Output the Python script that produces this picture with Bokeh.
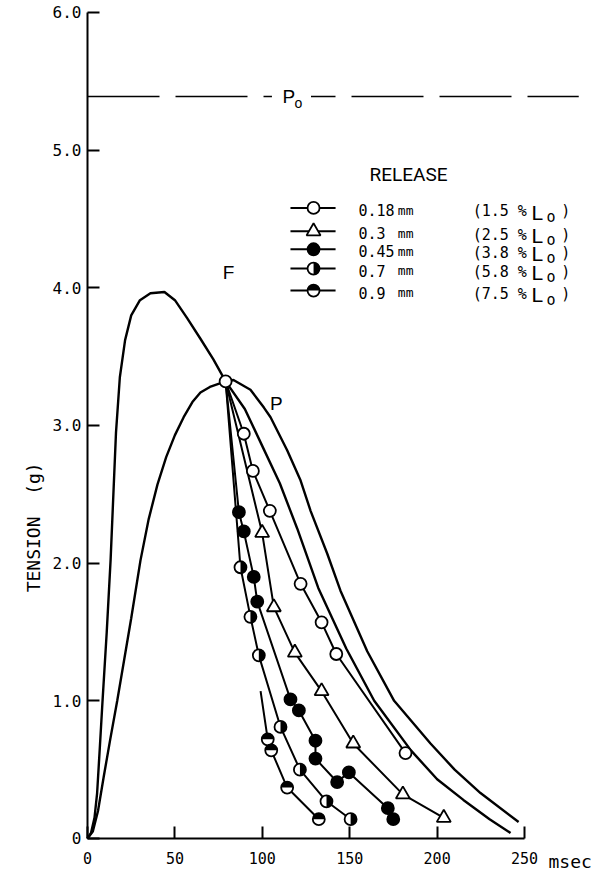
import math
from bokeh.plotting import figure
from bokeh.models import Label, Range1d, FixedTicker, LinearAxis
from bokeh.embed import file_html
from bokeh.resources import INLINE

# ---------------- data ----------------
P0 = 5.39

F_x = [0, 2, 4, 5.5, 7, 8.6, 11, 13.2, 14.8, 16.3, 18.5, 21.5, 25, 30, 36, 44, 50, 57, 64.6, 72, 79,
       90, 100, 110, 120, 132, 148, 164, 185, 200, 215, 230, 242]
F_y = [0, 0.04, 0.15, 0.33, 0.65, 1.0, 1.5, 2.02, 2.5, 2.95, 3.35, 3.62, 3.8, 3.91, 3.96, 3.97, 3.91, 3.78, 3.63, 3.48, 3.32,
       3.12, 2.85, 2.58, 2.25, 1.82, 1.38, 1.0, 0.64, 0.43, 0.28, 0.14, 0.04]

P_x = [0, 3, 6, 9.3, 13, 17, 21, 25, 30.3, 35, 40, 45, 50, 55, 60, 64.6, 70, 79, 83.5, 93.2,
       100.9, 104.7, 114.2, 121.9, 127.6, 137.1, 144.7, 160, 175.4, 196.2, 210, 224.8, 246.6]
P_y = [0, 0.05, 0.2, 0.45, 0.72, 1.0, 1.3, 1.6, 2.02, 2.32, 2.57, 2.77, 2.93, 3.06, 3.17, 3.24, 3.28, 3.32, 3.33, 3.26,
       3.13, 3.06, 2.82, 2.6, 2.38, 2.07, 1.8, 1.36, 1.0, 0.69, 0.5, 0.33, 0.12]

# release point (common start of the release curves)
REL_X = 79.0
REL_Y = 3.32

# 0.18 mm (open circles)
r018_x = [89.4, 94.6, 104.3, 121.9, 133.9, 142.3, 181.9]
r018_y = [2.94, 2.67, 2.38, 1.85, 1.57, 1.34, 0.62]
# 0.3 mm (triangles)
r03_x = [99.9, 106.6, 118.6, 133.9, 152.0, 180.4, 203.8]
r03_y = [2.22, 1.68, 1.35, 1.07, 0.69, 0.32, 0.15]
# 0.45 mm (filled circles)
r045_x = [86.6, 89.4, 95.1, 97.1, 116.1, 120.9, 130.4, 130.4, 142.8, 149.5, 171.8, 174.9]
r045_y = [2.37, 2.23, 1.90, 1.72, 1.01, 0.93, 0.71, 0.58, 0.41, 0.48, 0.22, 0.14]
# 0.7 mm (right-half filled)
r07_x = [87.5, 93.2, 98.0, 110.4, 121.5, 136.7, 150.5]
r07_y = [1.97, 1.61, 1.33, 0.81, 0.50, 0.27, 0.14]
# 0.9 mm (top-half filled); its line begins without a marker
r09_start_x = 99.0
r09_start_y = 1.07
r09_x = [103.1, 105.1, 114.2, 132.3]
r09_y = [0.72, 0.64, 0.37, 0.14]

legend_mm = ["0.18", "0.3", "0.45", "0.7", "0.9"]
legend_pct = ["(1.5 %", "(2.5 %", "(3.8 %", "(5.8 %", "(7.5 %"]
legend_kind = ["open", "tri", "filled", "half_right", "half_top"]

x_ticks = [0, 50, 100, 150, 200, 250]
y_ticks = [0, 1, 2, 3, 4, 5, 6]
y_tick_labels = ["0", "1.0", "2.0", "3.0", "4.0", "5.0", "6.0"]

# ---------------- figure ----------------
MONO = "DejaVu Sans Mono"
SANS = "Liberation Sans"

p = figure(width=598, height=875, x_range=Range1d(-49.77, 292.3), y_range=Range1d(-0.269, 6.087),
           output_backend="svg", toolbar_location=None,
           x_axis_location=None, y_axis_location=None, min_border=0)
p.outline_line_color = None
p.grid.visible = False
p.background_fill_color = "white"

xaxis = LinearAxis(fixed_location=0, bounds=(0, 250), ticker=FixedTicker(ticks=x_ticks))
yaxis = LinearAxis(fixed_location=0, bounds=(0, 6), ticker=FixedTicker(ticks=y_ticks))
yaxis.major_label_overrides = {t: s for t, s in zip(y_ticks, y_tick_labels)}
for ax in (xaxis, yaxis):
    ax.axis_line_width = 2
    ax.axis_line_color = "black"
    ax.major_tick_line_width = 2
    ax.major_tick_line_color = "black"
    ax.major_tick_in = 12
    ax.major_tick_out = 0
    ax.minor_tick_line_color = None
    ax.major_label_text_font = MONO
    ax.major_label_text_color = "black"
xaxis.major_label_text_font_size = "15px"
xaxis.major_label_standoff = 14
yaxis.major_label_text_font_size = "16px"
yaxis.major_label_standoff = 6
p.add_layout(xaxis, "below")
p.add_layout(yaxis, "left")


def label(**kw):
    kw.setdefault("text_color", "black")
    kw.setdefault("text_baseline", "middle")
    p.add_layout(Label(**kw))


# P0 dashed line with its label
p.line([0, 281], [P0, P0], line_color="black", line_width=1.6, line_dash="72 16")
label(x=105.5, y=P0, text="\u00a0\u00a0P\u00a0\u00a0\u00a0", text_font=SANS,
      text_font_size="19px", text_align="left", background_fill_color="white")
label(x=120.6, y=P0 - 0.05, text="o", text_font=SANS, text_font_size="14px", text_align="center")

# F and P curves
p.line(F_x, F_y, line_color="black", line_width=2.4)
p.line(P_x, P_y, line_color="black", line_width=2.4)
label(x=80.7, y=4.11, text="F", text_font=SANS, text_font_size="19px", text_align="center")
label(x=108, y=3.16, text="P", text_font=SANS, text_font_size="19px", text_align="center")

MS = 12


def draw_markers(xs, ys, kind):
    if kind == "open":
        p.scatter(xs, ys, marker="circle", size=MS, fill_color="white", line_color="black", line_width=1.8)
    elif kind == "tri":
        p.scatter(xs, ys, marker="triangle", size=MS + 2, fill_color="white", line_color="black", line_width=1.8)
    elif kind == "filled":
        p.scatter(xs, ys, marker="circle", size=MS, fill_color="black", line_color="black", line_width=1.8)
    else:
        if kind == "half_right":
            a0, a1 = -math.pi / 2, math.pi / 2
        else:
            a0, a1 = 0, math.pi
        p.scatter(xs, ys, marker="circle", size=MS, fill_color="white", line_color=None)
        p.wedge(xs, ys, radius=MS / 2, radius_units="screen", start_angle=a0, end_angle=a1,
                fill_color="black", line_color=None)
        p.scatter(xs, ys, marker="circle", size=MS, fill_color=None, line_color="black", line_width=1.8)


series = [
    ([REL_X] + r018_x, [REL_Y] + r018_y, r018_x, r018_y, "open"),
    ([REL_X] + r03_x, [REL_Y] + r03_y, r03_x, r03_y, "tri"),
    ([REL_X] + r045_x, [REL_Y] + r045_y, r045_x, r045_y, "filled"),
    ([REL_X] + r07_x, [REL_Y] + r07_y, r07_x, r07_y, "half_right"),
    ([r09_start_x] + r09_x, [r09_start_y] + r09_y, r09_x, r09_y, "half_top"),
]
for lx, ly, mx, my, kind in series:
    p.line(lx, ly, line_color="black", line_width=2)
for lx, ly, mx, my, kind in series:
    draw_markers(mx, my, kind)
# release point marker
draw_markers([REL_X], [REL_Y], "open")

# ---------------- legend (drawn by hand) ----------------
LEG_Y = [4.58, 4.41, 4.28, 4.14, 3.98]
label(x=183.6, y=4.82, text="RELEASE", text_font="Roboto", text_font_size="19px", text_align="center")
for yy, mm, pct, kind in zip(LEG_Y, legend_mm, legend_pct, legend_kind):
    p.line([116.1, 141.9], [yy, yy], line_color="black", line_width=2)
    draw_markers([129.3], [yy], kind)
    label(x=155, y=yy - 0.015, text=mm, text_font=MONO, text_font_size="15px")
    label(x=177.5, y=yy - 0.015, text="mm", text_font=MONO, text_font_size="13px")
    label(x=220.3, y=yy - 0.025, text=pct, text_font=MONO, text_font_size="15px")
    label(x=254.0, y=yy - 0.03, text="L", text_font=SANS, text_font_size="21px")
    label(x=262.5, y=yy - 0.065, text="o", text_font=MONO, text_font_size="15px")
    label(x=271.0, y=yy - 0.025, text=")", text_font=MONO, text_font_size="15px")

# axis titles
label(x=-30.9, y=2.26, text="TENSION\u00a0\u00a0(g)", text_font=MONO, text_font_size="18px",
      angle=math.pi / 2, text_align="center")
label(x=263.7, y=-0.17, text="msec", text_font=MONO, text_font_size="18px", text_align="left")

open("out.html", "w").write(file_html(p, INLINE))
